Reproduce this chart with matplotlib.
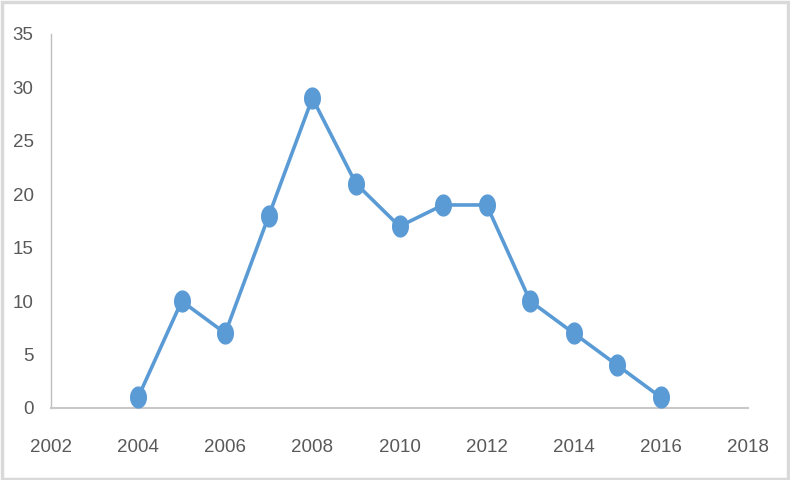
import matplotlib
matplotlib.use("Agg")
import matplotlib.pyplot as plt
from matplotlib.path import Path
from matplotlib.patches import Rectangle
import numpy as np

years = [2004, 2005, 2006, 2007, 2008, 2009, 2010, 2011, 2012, 2013, 2014, 2015, 2016]
values = [1, 10, 7, 18, 29, 21, 17, 19, 19, 10, 7, 4, 1]
xticks = [2002, 2004, 2006, 2008, 2010, 2012, 2014, 2016, 2018]
yticks = [0, 5, 10, 15, 20, 25, 30, 35]

plt.rcParams['font.family'] = ['Liberation Sans', 'DejaVu Sans']

# elliptical marker (taller than wide)
t = np.linspace(0, 2*np.pi, 40)
ell = Path(np.column_stack([0.75*np.cos(t), np.sin(t)]), closed=True)

fig = plt.figure(figsize=(7.9, 4.8), dpi=100)
ax = fig.add_axes([51/790, 1-408/480, (748-51)/790, (408-34)/480])
ax.plot(years, values, color='#5B9BD5', lw=2.6, marker=ell, markersize=15,
        markerfacecolor='#5B9BD5', markeredgecolor='#5B9BD5', clip_on=False, zorder=3)
ax.set_xlim(2002, 2018)
ax.set_ylim(0, 35)
ax.set_xticks(xticks)
ax.set_yticks(yticks)
ax.tick_params(length=0, labelsize=13.5, colors='#595959')
ax.tick_params(axis='x', pad=22)
ax.tick_params(axis='y', pad=12.5)
for s in ['top', 'right']:
    ax.spines[s].set_visible(False)
ax.spines['left'].set_color('#BFBFBF')
ax.spines['bottom'].set_color('#C8C8C8')
ax.spines['left'].set_linewidth(1.0)
ax.spines['bottom'].set_linewidth(1.5)

fig.patches.append(Rectangle((0.002, 0.003), 0.995, 0.993, transform=fig.transFigure,
                             fill=False, edgecolor='#D9D9D9', lw=2.5))
fig.savefig('out.png', dpi=100)
